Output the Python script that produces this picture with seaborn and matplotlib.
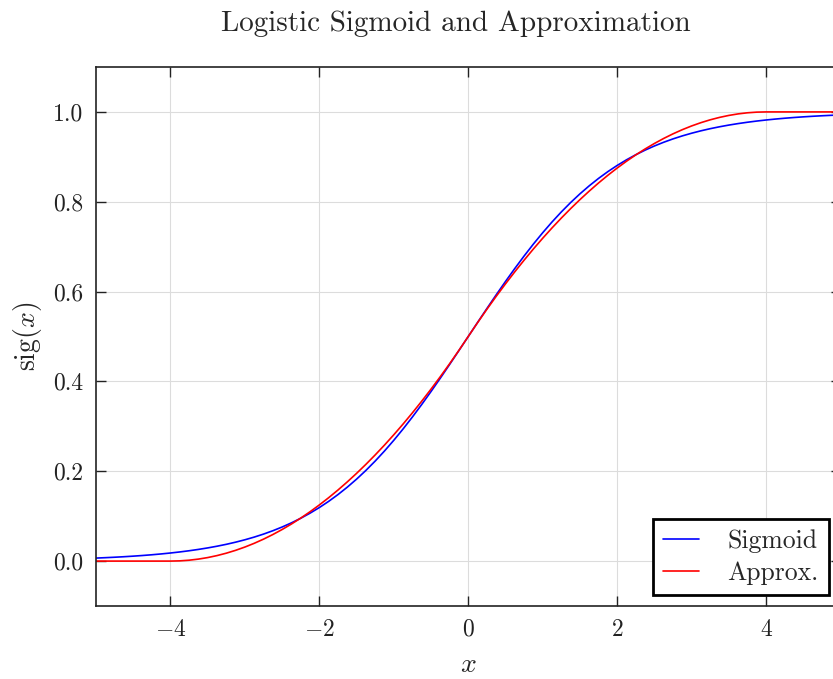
import numpy as np
import pandas as pd
import matplotlib
matplotlib.use("Agg")
import matplotlib.pyplot as plt
import seaborn as sns

# sample positions along x (step 0.125 from -5 to 5)
x_vals = np.linspace(-5.0, 5.0, 81)

# logistic sigmoid values
sigmoid_vals = [
    0.00669, 0.00758, 0.00858, 0.00971, 0.01099, 0.01243, 0.01406, 0.01591,
    0.01799, 0.02033, 0.02298, 0.02596, 0.02931, 0.03309, 0.03732, 0.04209,
    0.04743, 0.05340, 0.06008, 0.06755, 0.07586, 0.08510, 0.09535, 0.10669,
    0.11920, 0.13296, 0.14805, 0.16452, 0.18243, 0.20181, 0.22270, 0.24508,
    0.26894, 0.29421, 0.32082, 0.34865, 0.37754, 0.40733, 0.43782, 0.46879,
    0.50000,
    0.53121, 0.56218, 0.59267, 0.62246, 0.65135, 0.67918, 0.70579, 0.73106,
    0.75492, 0.77730, 0.79819, 0.81757, 0.83548, 0.85195, 0.86704, 0.88080,
    0.89331, 0.90465, 0.91490, 0.92414, 0.93245, 0.93992, 0.94660, 0.95257,
    0.95791, 0.96268, 0.96691, 0.97069, 0.97404, 0.97702, 0.97967, 0.98201,
    0.98409, 0.98594, 0.98757, 0.98901, 0.99029, 0.99142, 0.99242, 0.99331,
]

# piecewise quadratic approximation (flat at 0 and 1 beyond |x| = 4)
approx_vals = [
    0.0, 0.0, 0.0, 0.0, 0.0, 0.0, 0.0, 0.0,
    0.0, 0.00049, 0.00195, 0.00439, 0.00781, 0.01221, 0.01758, 0.02393,
    0.03125, 0.03955, 0.04883, 0.05908, 0.07031, 0.08252, 0.09570, 0.10986,
    0.12500, 0.14111, 0.15820, 0.17627, 0.19531, 0.21533, 0.23633, 0.25830,
    0.28125, 0.30518, 0.33008, 0.35596, 0.38281, 0.41064, 0.43945, 0.46924,
    0.50000,
    0.53076, 0.56055, 0.58936, 0.61719, 0.64404, 0.66992, 0.69482, 0.71875,
    0.74170, 0.76367, 0.78467, 0.80469, 0.82373, 0.84180, 0.85889, 0.87500,
    0.89014, 0.90430, 0.91748, 0.92969, 0.94092, 0.95117, 0.96045, 0.96875,
    0.97607, 0.98242, 0.98779, 0.99219, 0.99561, 0.99805, 0.99951, 1.0,
    1.0, 1.0, 1.0, 1.0, 1.0, 1.0, 1.0, 1.0,
]

series_names = ["Sigmoid", "Approx."]
series_colors = ["#0000ff", "#ff0000"]
x_ticks = [-4, -2, 0, 2, 4]
y_ticks = [0.0, 0.2, 0.4, 0.6, 0.8, 1.0]

df = pd.concat([
    pd.DataFrame({"x": x_vals, "y": sigmoid_vals, "curve": series_names[0]}),
    pd.DataFrame({"x": x_vals, "y": approx_vals, "curve": series_names[1]}),
], ignore_index=True)

sns.set_theme(style="white")
plt.rcParams.update({
    "font.family": ["cmr10"],
    "mathtext.fontset": "cm",
    "axes.formatter.use_mathtext": True,
    "axes.unicode_minus": True,
    "font.size": 17,
})

fig = plt.figure(figsize=(8.33, 6.79), dpi=100)
ax = fig.add_axes([96 / 833, 1 - 606 / 679, (840.5 - 96) / 833, (606 - 67) / 679])

sns.lineplot(data=df, x="x", y="y", hue="curve", palette=series_colors,
             hue_order=series_names, linewidth=1.2, ax=ax, sort=False,
             estimator=None)

ax.set_xlim(-5, 5)
ax.set_ylim(-0.1, 1.1)
ax.set_xticks(x_ticks)
ax.set_yticks(y_ticks)
ax.set_yticklabels([f"{v:.1f}" for v in y_ticks])
ax.grid(True, color="#dcdcdc", linewidth=0.8)
ax.set_axisbelow(True)
ax.tick_params(direction="in", length=7, width=1, top=True, right=True,
               bottom=True, left=True, labelsize=17, colors="#222222",
               labelcolor="#222222", pad=9)
for sp in ax.spines.values():
    sp.set_color("#222222")
    sp.set_linewidth(1.2)

ax.set_xlabel(r"$x$", fontsize=20, labelpad=8)
ax.set_ylabel(r"$\mathrm{sig}(x)$", fontsize=20, labelpad=7)
ax.set_title("Logistic Sigmoid and Approximation", fontsize=21, pad=26,
             x=0.483)

leg = ax.legend(loc="lower right", fancybox=False, edgecolor="black",
                framealpha=1, fontsize=18.5, borderpad=0.4,
                borderaxespad=0, handlelength=1.4, handletextpad=1.1,
                labelspacing=0.3,
                bbox_to_anchor=(829 / 833, 1 - 595 / 679),
                bbox_transform=fig.transFigure)
leg.get_frame().set_linewidth(2)

fig.savefig("out.png", dpi=100)
